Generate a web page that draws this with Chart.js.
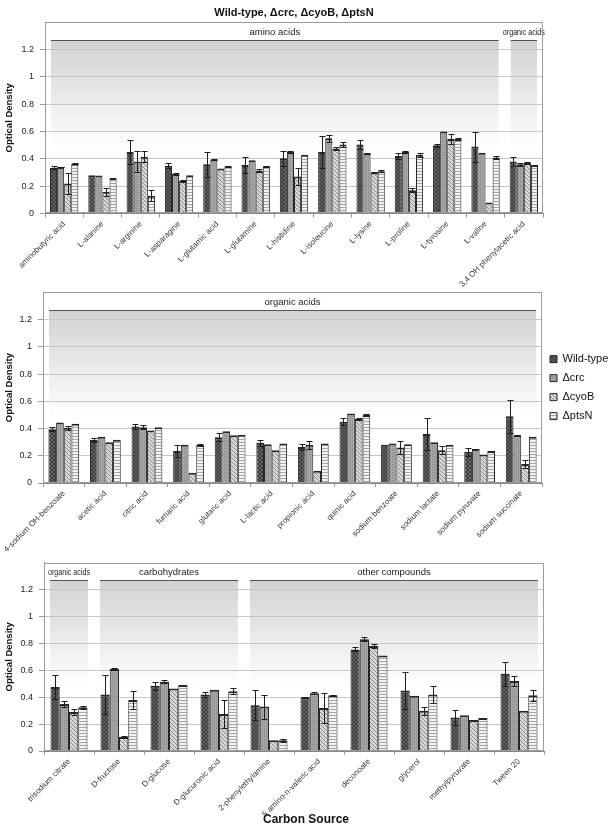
<!DOCTYPE html>
<html>
<head>
<meta charset="utf-8">
<script src="https://cdn.jsdelivr.net/npm/chart.js@4.4.1/dist/chart.umd.min.js"></script>
<style>
  html, body { margin: 0; padding: 0; background: #fff; overflow: hidden; }
  #page { position: relative; width: 608px; height: 829px; }
  canvas { position: absolute; left: 0; }
  #xtitle {
    position: absolute; left: 2px; top: 812px; width: 608px; text-align: center;
    font: bold 12px 'Liberation Sans', Arial, sans-serif; color: #111;
  }
</style>
</head>
<body>
<div id="page">
  <canvas id="panel1" width="608" height="290" style="top:0px"></canvas>
  <canvas id="panel2" width="608" height="272" style="top:286px"></canvas>
  <canvas id="panel3" width="608" height="273" style="top:556px"></canvas>
  <div id="xtitle">Carbon Source</div>
</div>
<script>
// ---- panel 1: amino acids ----
const labels1 = ["aminobutyric acid", "L-alanine", "L-arginine", "L-asparagine", "L-glutamic acid", "L-glutamine",
  "L-histidine", "L-isoleucine", "L-lysine", "L-proline", "L-tyrosine", "L-valine", "3,4 OH phenylacetic acid"];
const wt1 = [0.335, 0.28, 0.45, 0.35, 0.36, 0.355, 0.405, 0.45, 0.505, 0.42, 0.50, 0.49, 0.38];
const wt1Err = [0.01, 0, 0.085, 0.017, 0.09, 0.055, 0.055, 0.12, 0.03, 0.02, 0.01, 0.11, 0.03];
const crc1 = [0.34, 0.278, 0.38, 0.29, 0.395, 0.39, 0.45, 0.55, 0.44, 0.45, 0.60, 0.445, 0.36];
const crc1Err = [0.003, 0, 0.077, 0.008, 0.005, 0, 0.01, 0.025, 0.005, 0.005, 0, 0, 0.01];
const cyo1 = [0.22, 0.16, 0.415, 0.24, 0.33, 0.315, 0.27, 0.475, 0.30, 0.17, 0.545, 0.08, 0.37];
const cyo1Err = [0.08, 0.03, 0.04, 0.008, 0, 0.01, 0.065, 0.01, 0.007, 0.015, 0.035, 0, 0.005];
const pts1 = [0.365, 0.26, 0.13, 0.28, 0.345, 0.345, 0.43, 0.505, 0.31, 0.43, 0.545, 0.41, 0.355];
const pts1Err = [0.003, 0, 0.04, 0, 0.003, 0.003, 0, 0.02, 0.005, 0.015, 0.01, 0.01, 0];
const groups1 = [
  { label: "amino acids", from: 0, to: 11 },
  { label: "organic acids", from: 12, to: 12 },
];

// ---- panel 2: organic acids ----
const labels2 = ["4-sodium OH-benzoate", "acetic acid", "citric acid", "fumaric acid", "glutaric acid", "L-lactic acid",
  "propionic acid", "quinic acid", "sodium benzoate", "sodium lactate", "sodium pyruvate", "sodium succinate"];
const wt2 = [0.395, 0.315, 0.415, 0.235, 0.335, 0.295, 0.265, 0.45, 0.28, 0.36, 0.23, 0.49];
const wt2Err = [0.015, 0.015, 0.015, 0.045, 0.03, 0.02, 0.02, 0.025, 0, 0.12, 0.03, 0.12];
const crc2 = [0.445, 0.34, 0.41, 0.28, 0.38, 0.285, 0.28, 0.51, 0.29, 0.30, 0.25, 0.35];
const crc2Err = [0, 0, 0.015, 0, 0, 0, 0.03, 0, 0, 0, 0, 0.005];
const cyo2 = [0.405, 0.30, 0.385, 0.075, 0.35, 0.24, 0.09, 0.47, 0.26, 0.24, 0.21, 0.14];
const cyo2Err = [0.015, 0, 0, 0, 0, 0, 0, 0.01, 0.05, 0.03, 0, 0.03];
const pts2 = [0.435, 0.318, 0.41, 0.28, 0.355, 0.29, 0.29, 0.50, 0.285, 0.28, 0.235, 0.34];
const pts2Err = [0, 0, 0, 0.005, 0, 0, 0, 0.01, 0, 0, 0, 0];
const groups2 = [{ label: "organic acids", from: 0, to: 11 }];

// ---- panel 3: mixed ----
const labels3 = ["trisodium citrate", "D-fructose", "D-glucose", "D-glucuronic acid", "2-phenylethylamine",
  "5 amino-n-valeric acid", "deconoate", "glycerol", "methylpyruvate", "Tween 20"];
const wt3 = [0.475, 0.42, 0.485, 0.42, 0.34, 0.40, 0.755, 0.45, 0.25, 0.575];
const wt3Err = [0.09, 0.145, 0.03, 0.02, 0.11, 0.005, 0.015, 0.14, 0.055, 0.09];
const crc3 = [0.35, 0.61, 0.515, 0.455, 0.33, 0.43, 0.83, 0.41, 0.265, 0.52];
const crc3Err = [0.02, 0.01, 0.01, 0, 0.09, 0.005, 0.015, 0, 0, 0.04];
const cyo3 = [0.29, 0.105, 0.465, 0.275, 0.08, 0.32, 0.78, 0.30, 0.23, 0.30];
const cyo3Err = [0.025, 0.005, 0, 0.105, 0, 0.11, 0.015, 0.03, 0, 0];
const pts3 = [0.325, 0.38, 0.49, 0.445, 0.08, 0.415, 0.71, 0.42, 0.245, 0.415];
const pts3Err = [0.01, 0.065, 0, 0.02, 0.01, 0.005, 0, 0.06, 0, 0.04];
const groups3 = [
  { label: "organic acids", from: 0, to: 0 },
  { label: "carbohydrates", from: 1, to: 3 },
  { label: "other compounds", from: 4, to: 9 },
];

const seriesNames = ["Wild-type", "Δcrc", "ΔcyoB", "ΔptsN"];

Chart.defaults.font.family = "'Liberation Sans', Arial, sans-serif";
Chart.defaults.color = "#222";

// fill textures for the four strains
function makePattern(w, h, draw) {
  const c = document.createElement("canvas");
  c.width = w;
  c.height = h;
  const g = c.getContext("2d");
  draw(g);
  return g.createPattern(c, "repeat");
}

const patWild = makePattern(4, 4, (g) => {
  g.fillStyle = "#616161";
  g.fillRect(0, 0, 4, 4);
  g.fillStyle = "#3e3e3e";
  for (let i = 0; i < 4; i++) {
    g.fillRect(i, i, 1, 1);
    g.fillRect(3 - i, i, 1, 1);
  }
});
const patCrc = makePattern(2, 2, (g) => {
  g.fillStyle = "#a6a6a6";
  g.fillRect(0, 0, 2, 2);
  g.fillStyle = "#898989";
  g.fillRect(0, 0, 1, 1);
});
const patCyo = makePattern(4, 4, (g) => {
  g.fillStyle = "#d8d8d8";
  g.fillRect(0, 0, 4, 4);
  g.fillStyle = "#8a8a8a";
  for (let i = 0; i < 4; i++) g.fillRect(i, i, 1, 1);
});
const patPts = makePattern(1, 3, (g) => {
  g.fillStyle = "#f3f3f3";
  g.fillRect(0, 0, 1, 3);
  g.fillStyle = "#a4a4a4";
  g.fillRect(0, 0, 1, 1);
});
const fills = [patWild, patCrc, patCyo, patPts];

function makeDatasets(values, errors) {
  return values.map((vals, i) => ({
    label: seriesNames[i],
    data: vals,
    errors: errors[i],
    backgroundColor: fills[i],
    borderColor: "#262626",
    borderWidth: { top: 2, left: 1, right: 1, bottom: 0 },
    borderSkipped: "bottom",
    categoryPercentage: 0.74,
    barPercentage: 1,
  }));
}

// shaded category bands behind the bars
function bandsPlugin(groups) {
  return {
    id: "bands",
    beforeDraw(chart) {
      const { ctx, scales: { x, y } } = chart;
      const half = (x.getPixelForValue(1) - x.getPixelForValue(0)) / 2;
      const top = Math.round(y.getPixelForValue(1.27));
      const bottom = y.getPixelForValue(0.48);
      ctx.save();
      groups.forEach((g) => {
        const left = x.getPixelForValue(g.from) - half + 6;
        const right = x.getPixelForValue(g.to) + half - 6;
        const grad = ctx.createLinearGradient(0, top, 0, bottom);
        grad.addColorStop(0, "#d2d2d2");
        grad.addColorStop(1, "#ffffff");
        ctx.fillStyle = grad;
        ctx.fillRect(left, top, right - left, bottom - top);
        ctx.strokeStyle = "#555";
        ctx.lineWidth = 1;
        ctx.beginPath();
        ctx.moveTo(left, top + 0.5);
        ctx.lineTo(right, top + 0.5);
        ctx.stroke();
        ctx.fillStyle = "#1a1a1a";
        ctx.font = "9.5px 'Liberation Sans', Arial, sans-serif";
        ctx.textAlign = "center";
        ctx.textBaseline = "middle";
        const cx = (left + right) / 2;
        if (g.from === g.to) ctx.fillText(g.label, cx, top - 8, 42);
        else ctx.fillText(g.label, cx, top - 8);
      });
      ctx.restore();
    },
  };
}

const errorBars = {
  id: "errorBars",
  afterDatasetsDraw(chart) {
    const { ctx, scales: { y } } = chart;
    ctx.save();
    ctx.strokeStyle = "#1e1e1e";
    ctx.lineWidth = 1;
    chart.data.datasets.forEach((ds, i) => {
      chart.getDatasetMeta(i).data.forEach((bar, j) => {
        const e = ds.errors[j];
        if (!e) return;
        const xp = Math.round(bar.x) + 0.5;
        const hi = Math.round(y.getPixelForValue(ds.data[j] + e)) + 0.5;
        const lo = Math.round(y.getPixelForValue(ds.data[j] - e)) + 0.5;
        ctx.beginPath();
        ctx.moveTo(xp, hi);
        ctx.lineTo(xp, lo);
        ctx.moveTo(xp - 3, hi);
        ctx.lineTo(xp + 3, hi);
        ctx.moveTo(xp - 3, lo);
        ctx.lineTo(xp + 3, lo);
        ctx.stroke();
      });
    });
    ctx.restore();
  },
};

const frame = {
  id: "frame",
  afterDraw(chart) {
    const { ctx, chartArea: a } = chart;
    ctx.save();
    ctx.strokeStyle = "#9c9c9c";
    ctx.lineWidth = 1;
    ctx.strokeRect(Math.round(a.left) + 0.5, Math.round(a.top) + 0.5,
      Math.round(a.right - a.left) - 1, Math.round(a.bottom - a.top) - 1);
    ctx.restore();
  },
};

function createPanel(id, labels, values, errors, groups, cfg) {
  const ctx = document.getElementById(id).getContext("2d");
  new Chart(ctx, {
    type: "bar",
    data: { labels, datasets: makeDatasets(values, errors) },
    options: {
      responsive: false,
      animation: false,
      layout: { padding: { top: cfg.padTop, right: cfg.padRight, left: 0, bottom: 0 } },
      plugins: {
        legend: cfg.legend
          ? {
              display: true,
              position: "right",
              fullSize: false,
              maxWidth: 66,
              labels: { boxWidth: 7, boxHeight: 7, padding: 8, color: "#111", font: { size: 11 } },
            }
          : { display: false },
        title: cfg.title
          ? {
              display: true,
              text: cfg.title,
              fullSize: false,
              color: "#111",
              font: { size: 11, weight: "bold" },
              padding: { top: 6, bottom: 3 },
            }
          : { display: false },
        tooltip: { enabled: false },
      },
      scales: {
        x: {
          ticks: { autoSkip: false, minRotation: 45, maxRotation: 45, color: "#333", font: { size: 8 }, padding: 2 },
          grid: { drawOnChartArea: false, tickLength: 4, color: "#999" },
          border: { color: "#888" },
          afterFit: (s) => {
            s.height = cfg.xHeight;
            s.paddingLeft = 0;
            s.paddingRight = 0;
          },
        },
        y: {
          min: 0,
          max: 1.4,
          ticks: {
            stepSize: 0.2,
            color: "#222",
            font: { size: 9 },
            padding: 6,
            callback: (v) => (v > 1.3 ? "" : String(Math.round(v * 10) / 10)),
          },
          grid: {
            color: (c) => (c.tick && c.tick.value > 1.3 ? "rgba(0,0,0,0)" : "#c6c6c6"),
            tickColor: (c) => (c.tick && c.tick.value > 1.3 ? "rgba(0,0,0,0)" : "#999"),
            tickLength: 5,
          },
          border: { color: "#999" },
          title: {
            display: true,
            text: "Optical Density",
            color: "#111",
            font: { size: 9.5, weight: "bold" },
            padding: { top: 4, bottom: 0 },
          },
          afterFit: (s) => {
            s.width = cfg.yWidth;
            s.paddingTop = 0;
            s.paddingBottom = 0;
          },
        },
      },
    },
    plugins: [bandsPlugin(groups), errorBars, frame],
  });
}

createPanel("panel1", labels1, [wt1, crc1, cyo1, pts1], [wt1Err, crc1Err, cyo1Err, pts1Err], groups1, {
  padTop: 0, padRight: 65, yWidth: 45, xHeight: 76.5, title: "Wild-type, Δcrc, ΔcyoB, ΔptsN",
});
createPanel("panel2", labels2, [wt2, crc2, cyo2, pts2], [wt2Err, crc2Err, cyo2Err, pts2Err], groups2, {
  padTop: 6.3, padRight: 0, yWidth: 43, xHeight: 75, legend: true,
});
createPanel("panel3", labels3, [wt3, crc3, cyo3, pts3], [wt3Err, crc3Err, cyo3Err, pts3Err], groups3, {
  padTop: 6.7, padRight: 64, yWidth: 44, xHeight: 78,
});
</script>
</body>
</html>
